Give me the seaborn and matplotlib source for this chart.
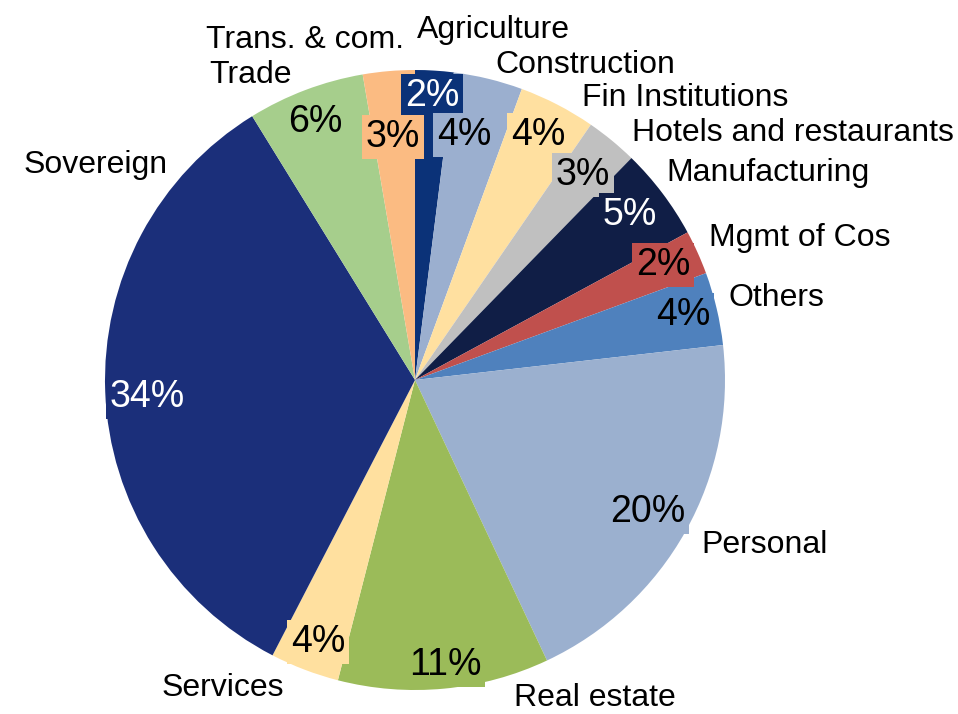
import matplotlib.pyplot as plt
import seaborn as sns

sns.set_theme(style="white")
plt.rcParams['font.family'] = ['Liberation Sans', 'DejaVu Sans']

# sectors clockwise from 12 o'clock
sectors = ["Agriculture", "Construction", "Fin Institutions", "Hotels and restaurants",
           "Manufacturing", "Mgmt of Cos", "Others", "Personal", "Real estate",
           "Services", "Sovereign", "Trade", "Trans. & com."]
shares = [2.0, 3.6, 4.0, 2.7, 4.8, 2.3, 3.8, 19.8, 11.0, 3.6, 33.6, 6.1, 2.7]
colors = ["#0B3278", "#9BAFCF", "#FFE0A0", "#C0C0C0", "#101E46", "#C0504D", "#4F81BD",
          "#9BB0CF", "#9BBB59", "#FFE09F", "#1B2F7A", "#A6CE8C", "#FBBB82"]
pct_colors = ["white", "black", "black", "black", "white", "black", "black",
              "black", "black", "black", "white", "black", "black"]

# label placement in pixels of the 958x714 canvas (pie centre 415,380, radius 310)
cx, cy, r = 415, 380, 310
name_px = [(493, 30), (585, 65), (685, 98), (793, 133), (768, 173), (800, 238),
           (776, 298), (765, 545), (595, 698), (223, 688), (96, 165), (250, 75), (305, 40)]
pct_px = [(432, 96), (464, 135), (538, 135), (583, 175), (630, 215), (663, 265),
          (683, 315), (648, 512), (445, 665), (318, 642), (147, 397), (315, 122), (393, 137)]


def to_data(p):
    return (p[0] - cx) / r, (cy - p[1]) / r


fig = plt.figure(figsize=(9.58, 7.14), dpi=100)
ax = fig.add_axes([0, 0, 1, 1])
wedges, texts, autotexts = ax.pie(
    shares, labels=sectors, colors=colors, startangle=90, counterclock=False,
    autopct=lambda p: f"{p:.0f}%", wedgeprops=dict(linewidth=0),
    textprops=dict(fontsize=23),
)
for i, t in enumerate(texts):
    t.set_position(to_data(name_px[i]))
    t.set_ha('center')
    t.set_va('center')
    t.set_color('black')
for i, t in enumerate(autotexts):
    t.set_position(to_data(pct_px[i]))
    t.set_ha('center')
    t.set_va('center')
    t.set_color(pct_colors[i])
    t.set_fontsize(27)
    t.set_bbox(dict(boxstyle='square,pad=0.1', fc=colors[i], ec='none'))

ax.set_xlim(-cx / r, (958 - cx) / r)
ax.set_ylim(-(714 - cy) / r, cy / r)
ax.set_aspect('equal')
ax.axis('off')

plt.savefig("out.png", dpi=100)
plt.close()
